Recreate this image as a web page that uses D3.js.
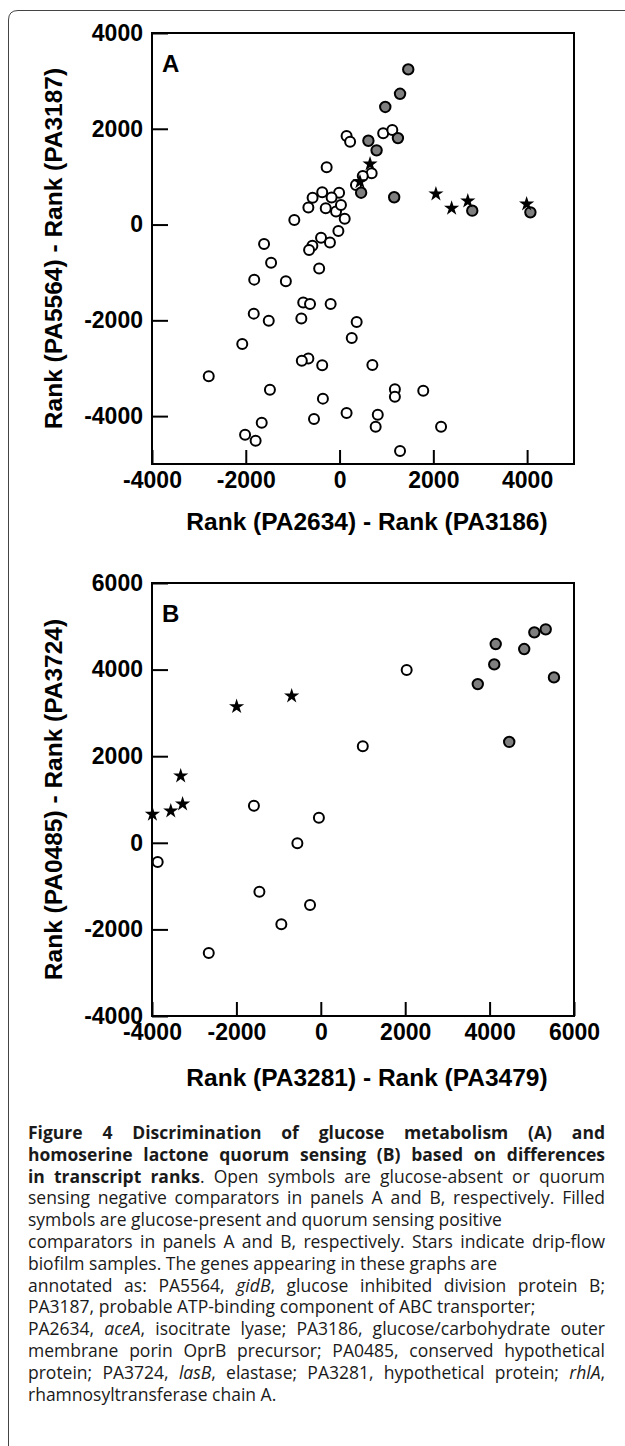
<!DOCTYPE html>
<html>
<head>
<meta charset="utf-8">
<script src="https://cdn.jsdelivr.net/npm/d3@7"></script>
<style>
  body { margin: 0; background: #fff; }
  #fig { position: relative; width: 625px; height: 1446px; overflow: hidden; }
  #fig svg { position: absolute; left: 0; top: 0; }
  #caption {
    position: absolute; left: 28px; top: 1122px; width: 577px;
    font-family: "Open Sans", sans-serif; font-size: 17.5px; line-height: 21.8px;
    color: #1a1a1a;
  }
  #caption div { white-space: nowrap; }
  #caption div.j { text-align: justify; text-align-last: justify; white-space: normal; }
  .axis text { font-family: "Liberation Sans", Arial, sans-serif; font-weight: bold; font-size: 23px; fill: #000; }
  .axis line { stroke: #000; stroke-width: 2; }
</style>
</head>
<body>
<div id="fig">
  <svg id="chart" width="625" height="1446"></svg>
  <div id="caption"></div>
</div>
<script>
// ---- panel A: glucose metabolism ----
const aOpen = [
  [150, 1850], [225, 1730], [930, 1905], [1125, 1975], [-275, 1195],
  [685, 1070], [495, 1015], [350, 825], [-370, 675], [-575, 560],
  [-10, 665], [-170, 565], [-665, 355], [-295, 340], [-75, 275],
  [30, 410], [110, 120], [-965, 95], [-25, -135], [-395, -275],
  [-205, -375], [-580, -445], [-650, -530], [-1610, -405], [-1460, -800],
  [-435, -920], [-1820, -1150], [-1145, -1185], [-775, -1630], [-630, -1660],
  [-190, -1660], [-1830, -1860], [-1510, -2010], [-815, -1960], [365, -2035],
  [260, -2370], [-2075, -2495], [-665, -2795], [-805, -2845], [-370, -2940],
  [700, -2935], [-2790, -3170], [-1485, -3450], [1180, -3440], [1180, -3595],
  [1785, -3470], [-355, -3635], [150, -3935], [815, -3970], [-545, -4060],
  [-1660, -4140], [770, -4220], [2165, -4220], [-2015, -4390], [-1790, -4515],
  [1290, -4730]
];
const aFilled = [
  [1465, 3240], [1290, 2730], [975, 2455], [615, 1750], [790, 1550],
  [1245, 1805], [460, 665], [1165, 570], [2830, 290], [4070, 255]
];
const aStars = [
  [650, 1265], [435, 895], [2055, 640], [2390, 340], [2735, 490], [3990, 430]
];
const aXTicks = [-4000, -2000, 0, 2000, 4000];
const aYTicks = [-4000, -2000, 0, 2000, 4000];

// ---- panel B: homoserine lactone quorum sensing ----
const bOpen = [
  [2035, 3990], [995, 2230], [-1585, 855], [-45, 580], [-555, -10],
  [-3865, -445], [-1455, -1130], [-255, -1435], [-935, -1880], [-2655, -2545]
];
const bFilled = [
  [4145, 4590], [4820, 4475], [5060, 4860], [5330, 4930], [4110, 4120],
  [3720, 3665], [5525, 3820], [4465, 2330]
];
const bStars = [
  [-1995, 3145], [-690, 3390], [-3320, 1545], [-3990, 660], [-3555, 735], [-3275, 895]
];
const bXTicks = [-4000, -2000, 0, 2000, 4000, 6000];
const bYTicks = [-4000, -2000, 0, 2000, 4000, 6000];

const panels = [
  { letter: "A", top: 33, bottom: 464, xDomain: [-4000, 5000], yDomain: [-5000, 4000],
    xTicks: aXTicks, yTicks: aYTicks, open: aOpen, filled: aFilled, stars: aStars,
    xTitle: "Rank (PA2634) - Rank (PA3186)", yTitle: "Rank (PA5564) - Rank (PA3187)", xTitleY: 530 },
  { letter: "B", top: 583, bottom: 1016, xDomain: [-4000, 6000], yDomain: [-4000, 6000],
    xTicks: bXTicks, yTicks: bYTicks, open: bOpen, filled: bFilled, stars: bStars,
    xTitle: "Rank (PA3281) - Rank (PA3479)", yTitle: "Rank (PA0485) - Rank (PA3724)", xTitleY: 1086 }
];

const left = 152, right = 574;
const svg = d3.select("#chart");
const fmt = d => String(d); // plain hyphen-minus like the original figure

// outer frame of the figure (left edge + top edge with rounded corner)
svg.append("path")
  .attr("d", "M8.5,1446 L8.5,20 Q8.5,10.5 18,10.5 L625,10.5")
  .attr("fill", "none")
  .attr("stroke", "#444")
  .attr("stroke-width", 1);

const star = d3.symbol().type(d3.symbolStar).size(72);

panels.forEach(p => {
  const x = d3.scaleLinear().domain(p.xDomain).range([left, right]);
  const y = d3.scaleLinear().domain(p.yDomain).range([p.bottom, p.top]);
  const g = svg.append("g");

  // axes, ticks pointing inwards
  const xAxis = g.append("g")
    .attr("class", "axis")
    .attr("transform", `translate(0,${p.bottom})`)
    .call(d3.axisBottom(x).tickValues(p.xTicks).tickSizeInner(-14).tickSizeOuter(0).tickPadding(8).tickFormat(fmt));
  xAxis.select(".domain").remove();

  const yAxis = g.append("g")
    .attr("class", "axis")
    .attr("transform", `translate(${left},0)`)
    .call(d3.axisLeft(y).tickValues(p.yTicks).tickSizeInner(-16).tickSizeOuter(0).tickPadding(9).tickFormat(fmt));
  yAxis.select(".domain").remove();

  // plot box
  g.append("rect")
    .attr("x", left).attr("y", p.top)
    .attr("width", right - left).attr("height", p.bottom - p.top)
    .attr("fill", "none").attr("stroke", "#000").attr("stroke-width", 2);

  // panel letter
  g.append("text")
    .attr("x", left + 10).attr("y", p.top + 39)
    .attr("font-family", "Liberation Sans, Arial, sans-serif")
    .attr("font-weight", "bold").attr("font-size", 24)
    .text(p.letter);

  // axis titles
  g.append("text")
    .attr("x", (left + right) / 2 + 4).attr("y", p.xTitleY)
    .attr("text-anchor", "middle")
    .attr("font-family", "Liberation Sans, Arial, sans-serif")
    .attr("font-weight", "bold").attr("font-size", 24.5)
    .text(p.xTitle);

  g.append("text")
    .attr("transform", `translate(62,${(p.top + p.bottom) / 2}) rotate(-90)`)
    .attr("text-anchor", "middle")
    .attr("font-family", "Liberation Sans, Arial, sans-serif")
    .attr("font-weight", "bold").attr("font-size", 24.5)
    .text(p.yTitle);

  // open symbols
  g.selectAll(".open").data(p.open).join("circle")
    .attr("class", "open")
    .attr("cx", d => x(d[0])).attr("cy", d => y(d[1]))
    .attr("r", 5)
    .attr("fill", "#fff").attr("stroke", "#000").attr("stroke-width", 2);

  // filled symbols
  g.selectAll(".filled").data(p.filled).join("circle")
    .attr("class", "filled")
    .attr("cx", d => x(d[0])).attr("cy", d => y(d[1]))
    .attr("r", 5.2)
    .attr("fill", "#7f7f7f").attr("stroke", "#000").attr("stroke-width", 2);

  // stars (drip-flow biofilm)
  g.selectAll(".star").data(p.stars).join("path")
    .attr("class", "star")
    .attr("transform", d => `translate(${x(d[0])},${y(d[1])})`)
    .attr("d", star)
    .attr("fill", "#000");
});

// ---- caption ----
const captionLines = [
  { html: "<b>Figure 4 Discrimination of glucose metabolism (A) and</b>", justify: true },
  { html: "<b>homoserine lactone quorum sensing (B) based on differences</b>", justify: true },
  { html: "<b>in transcript ranks</b>. Open symbols are glucose-absent or quorum", justify: true },
  { html: "sensing negative comparators in panels A and B, respectively. Filled", justify: true },
  { html: "symbols are glucose-present and quorum sensing positive", justify: false },
  { html: "comparators in panels A and B, respectively. Stars indicate drip-flow", justify: true },
  { html: "biofilm samples. The genes appearing in these graphs are", justify: false },
  { html: "annotated as: PA5564, <i>gidB</i>, glucose inhibited division protein B;", justify: true },
  { html: "PA3187, probable ATP-binding component of ABC transporter;", justify: false },
  { html: "PA2634, <i>aceA</i>, isocitrate lyase; PA3186, glucose/carbohydrate outer", justify: true },
  { html: "membrane porin OprB precursor; PA0485, conserved hypothetical", justify: true },
  { html: "protein; PA3724, <i>lasB</i>, elastase; PA3281, hypothetical protein; <i>rhlA</i>,", justify: true },
  { html: "rhamnosyltransferase chain A.", justify: false }
];

d3.select("#caption").selectAll("div")
  .data(captionLines)
  .join("div")
  .attr("class", d => d.justify ? "j" : null)
  .html(d => d.html);
</script>
</body>
</html>
